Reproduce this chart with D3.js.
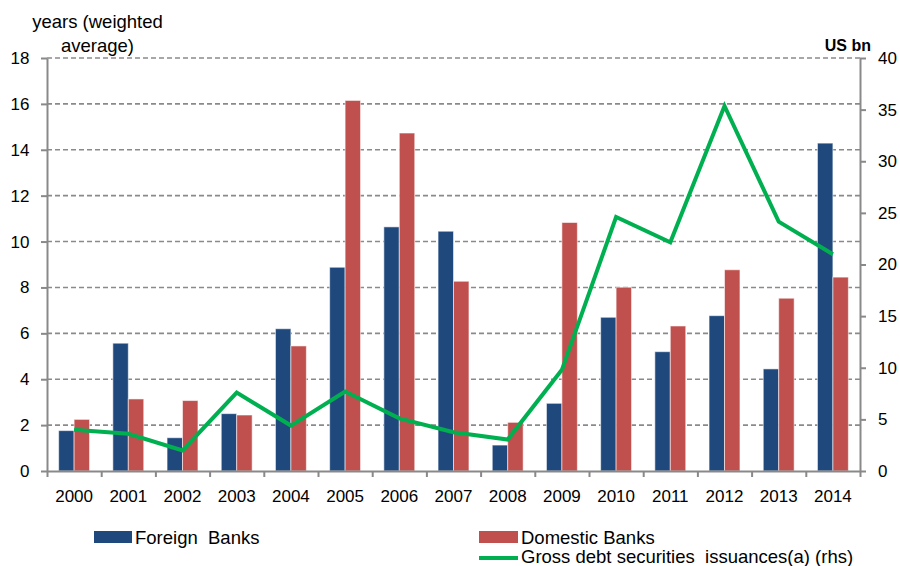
<!DOCTYPE html>
<html>
<head>
<meta charset="utf-8">
<script src="https://cdn.jsdelivr.net/npm/d3@7"></script>
<style>
  html, body { margin: 0; padding: 0; background: #fff; }
  svg { display: block; font-family: "Liberation Sans", Arial, Helvetica, sans-serif; }
</style>
</head>
<body>
<svg id="chart" width="900" height="566"></svg>
<script>
// Average maturity of bank bond issuance (years) and gross issuance (US bn, rhs)
const years = ["2000","2001","2002","2003","2004","2005","2006","2007","2008","2009","2010","2011","2012","2013","2014"];
const foreignBanks  = [1.76, 5.57, 1.45, 2.50, 6.20, 8.88, 10.64, 10.45, 1.13, 2.95, 6.70, 5.20, 6.77, 4.45, 14.29];
const domesticBanks = [2.25, 3.14, 3.07, 2.44, 5.45, 16.15, 14.73, 8.27, 2.12, 10.83, 8.01, 6.32, 8.77, 7.53, 8.45];
const grossIssuance = [4.0, 3.6, 2.0, 7.6, 4.4, 7.7, 5.1, 3.75, 3.05, 9.8, 24.6, 22.15, 35.35, 24.15, 21.0];
const leftTicks  = [0, 2, 4, 6, 8, 10, 12, 14, 16, 18];
const rightTicks = [0, 5, 10, 15, 20, 25, 30, 35, 40];
const seriesNames = ["Foreign  Banks", "Domestic Banks", "Gross debt securities  issuances(a) (rhs)"];

const colors = { foreign: "#1F497D", domestic: "#C0504D", line: "#00B050", axis: "#898989", grid: "#8a8a8a" };
const plot = { left: 47, right: 860, top: 58, bottom: 471 };
const tickFont = 17, labelFont = 18.5;

const svg = d3.select("#chart");

const x = d3.scaleBand().domain(years).range([plot.left, plot.right])
  .paddingInner(0.43).paddingOuter(0.215);
const xs = d3.scaleBand().domain(["foreign", "domestic"]).range([0, x.bandwidth()]);
const xEdges = d3.scaleLinear().domain([0, years.length]).range([plot.left, plot.right]);
const yL = d3.scaleLinear().domain([0, 18]).range([plot.bottom, plot.top]);
const yR = d3.scaleLinear().domain([0, 40]).range([plot.bottom, plot.top]);

// dashed horizontal gridlines on the left scale
svg.append("g").selectAll("line").data(leftTicks.filter(d => d > 0)).join("line")
  .attr("x1", plot.left).attr("x2", plot.right)
  .attr("y1", d => yL(d)).attr("y2", d => yL(d))
  .attr("stroke", colors.grid).attr("stroke-width", 1.6).attr("stroke-dasharray", "5,3");

// bars
const rows = years.map((y, i) => ({ year: y, foreign: foreignBanks[i], domestic: domesticBanks[i] }));
const groups = svg.append("g").selectAll("g").data(rows).join("g")
  .attr("transform", d => `translate(${x(d.year)},0)`);
groups.selectAll("rect").data(d => ["foreign", "domestic"].map(k => ({ key: k, value: d[k] }))).join("rect")
  .attr("x", d => xs(d.key))
  .attr("width", xs.bandwidth())
  .attr("y", d => yL(d.value))
  .attr("height", d => yL(0) - yL(d.value))
  .attr("fill", d => colors[d.key])
  .attr("stroke", "rgba(255,255,255,0.55)").attr("stroke-width", 1);

// axes
function styleAxis(g) {
  g.selectAll(".domain").attr("stroke", colors.axis).attr("stroke-width", 2);
  g.selectAll(".tick line").attr("stroke", colors.axis).attr("stroke-width", 2);
  g.selectAll(".tick text").attr("fill", "#000").attr("font-size", tickFont)
    .attr("font-family", "\"Liberation Sans\", Arial, sans-serif");
}

svg.append("g").attr("transform", `translate(${plot.left},0)`)
  .call(d3.axisLeft(yL).tickValues(leftTicks).tickSize(6).tickSizeOuter(0).tickPadding(11.5))
  .call(styleAxis);

svg.append("g").attr("transform", `translate(${plot.right},0)`)
  .call(d3.axisRight(yR).tickValues(rightTicks).tickSize(6).tickSizeOuter(0).tickPadding(12))
  .call(styleAxis);

// x axis: tick marks at category edges, labels at category centres
svg.append("g").attr("transform", `translate(0,${plot.bottom})`)
  .call(d3.axisBottom(xEdges).tickValues(d3.range(0, years.length + 1)).tickFormat("").tickSize(6).tickSizeOuter(0))
  .call(styleAxis);
svg.append("g").attr("transform", `translate(0,${plot.bottom})`)
  .call(d3.axisBottom(x).tickSize(0).tickPadding(19))
  .call(g => g.select(".domain").remove())
  .call(styleAxis);

// issuance line on the right scale
const line = d3.line()
  .x((d, i) => x(years[i]) + x.bandwidth() / 2)
  .y(d => yR(d));
svg.append("path").datum(grossIssuance)
  .attr("d", line).attr("fill", "none")
  .attr("stroke", colors.line).attr("stroke-width", 4).attr("stroke-linejoin", "miter");

// axis titles
const lt = svg.append("text").attr("text-anchor", "middle").attr("font-size", labelFont).attr("fill", "#000");
lt.append("tspan").attr("x", 97.5).attr("y", 28).text("years (weighted");
lt.append("tspan").attr("x", 97.5).attr("y", 52).text("average)");
svg.append("text").attr("x", 871).attr("y", 51).attr("text-anchor", "end")
  .attr("font-size", 16).attr("font-weight", "bold").attr("fill", "#000").text("US bn");

// legend
const legend = svg.append("g").attr("font-size", labelFont).attr("fill", "#000");
legend.append("rect").attr("x", 94).attr("y", 531).attr("width", 38).attr("height", 12).attr("fill", colors.foreign);
legend.append("text").attr("x", 135).attr("y", 544).style("white-space", "pre").text(seriesNames[0]);
legend.append("rect").attr("x", 479).attr("y", 531).attr("width", 39).attr("height", 12).attr("fill", colors.domestic);
legend.append("text").attr("x", 521).attr("y", 544).style("white-space", "pre").text(seriesNames[1]);
legend.append("line").attr("x1", 479).attr("x2", 518).attr("y1", 558).attr("y2", 558)
  .attr("stroke", colors.line).attr("stroke-width", 4);
legend.append("text").attr("x", 521).attr("y", 563).style("white-space", "pre").text(seriesNames[2]);
</script>
</body>
</html>
